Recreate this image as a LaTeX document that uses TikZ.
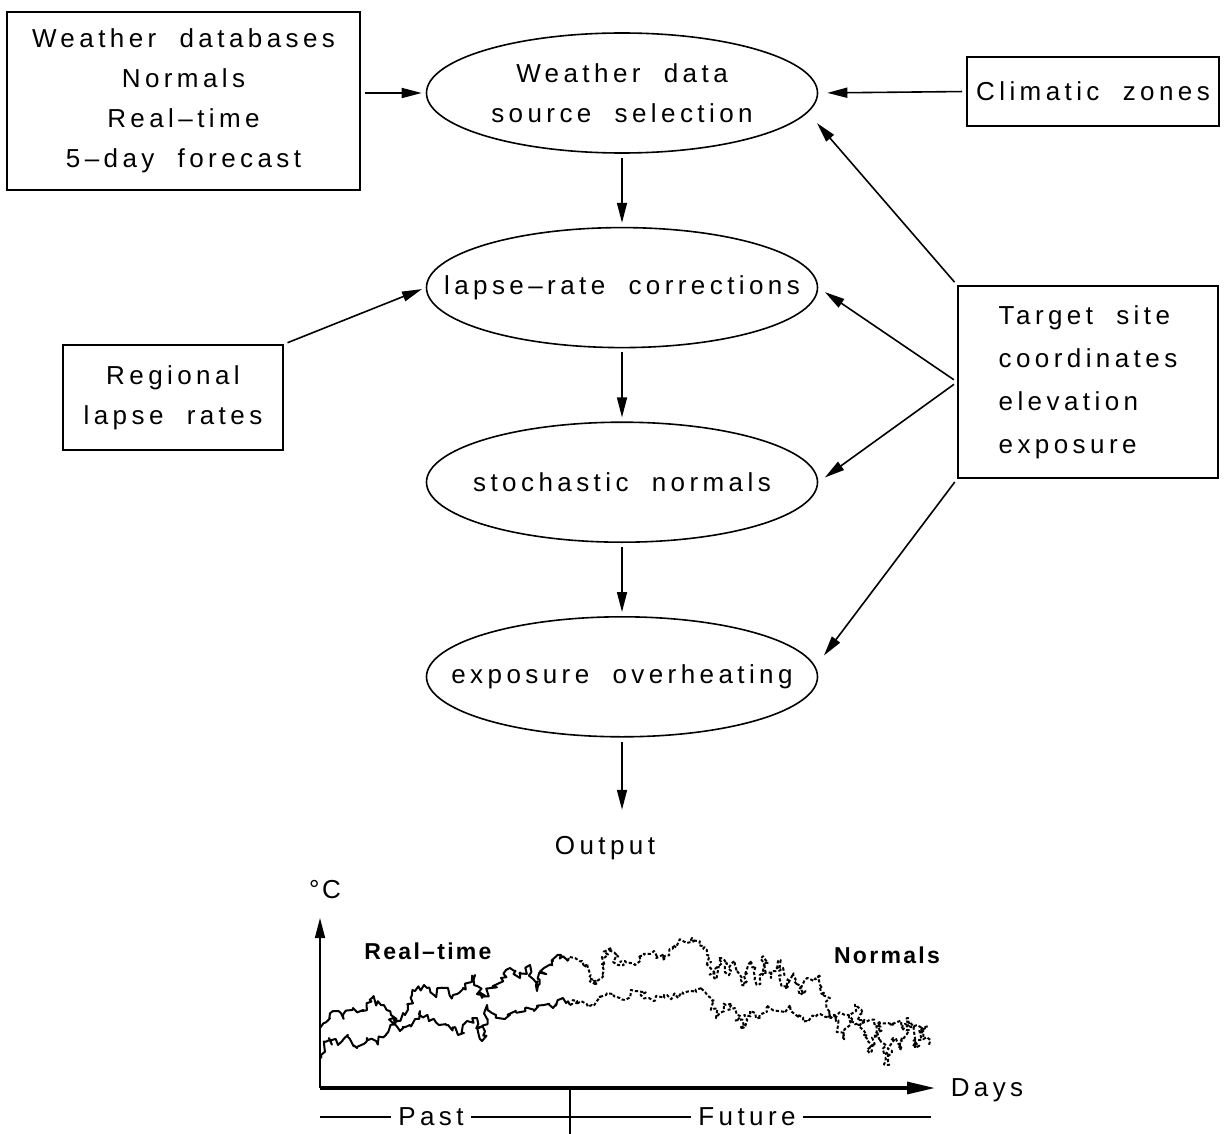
\documentclass[tikz,border=0pt]{standalone}
\usepackage{fontspec}
\setmainfont{Liberation Sans}[LetterSpace=17,WordSpace=2]
\newfontfamily\lblfont{Liberation Sans}[LetterSpace=10]
\usetikzlibrary{arrows.meta,positioning,shapes.geometric,decorations.pathmorphing}

\begin{document}
\begin{tikzpicture}[x=0.5pt,y=-0.5pt,font=\fontsize{13}{20}\selectfont,line width=0.8pt,
  >={Triangle[length=10pt,width=5pt]},
  b/.style={draw,align=center,inner sep=0pt},
  e/.style={draw,ellipse,align=center,minimum width=195.5pt,minimum height=60pt,inner xsep=-30pt,inner ysep=0pt},
  a/.style={->,shorten <=2pt,shorten >=2pt},
  lbl/.style={font=\lblfont\bfseries\fontsize{11.5}{14}\selectfont},
  rt/.style={line width=1pt,line join=round,decorate,decoration={random steps,segment length=1.6pt,amplitude=2pt}},
  nm/.style={rt,dash pattern=on 1.6pt off 1pt}]
  \useasboundingbox (0,0) rectangle (1225,1134);
  \pgfmathsetseed{11}
  % inputs
  \node[b,minimum width=176.5pt,minimum height=89pt] (dbs) at (183.5,101) {Weather databases\\Normals\\Real–time\\5–day forecast};
  \node[b,minimum width=126pt,minimum height=34.5pt] (clim) at (1093,91.5) {Climatic zones};
  \node[b,minimum width=110pt,minimum height=52.5pt] (rlr) at (173,397.5) {Regional\\lapse rates};
  \node[b,align=left,font=\fontsize{13}{21.5}\selectfont,minimum width=130pt,minimum height=96pt] (tgt) at (1088,382) {Target site\\coordinates\\elevation\\exposure};
  % chain
  \node[e] (wds) at (622,93) {Weather data\\source selection};
  \node[e,below=36.5pt of wds] (lrc) {lapse–rate corrections};
  \node[e,below=36.5pt of lrc] (stn) {stochastic normals};
  \node[e,below=36.5pt of stn] (ovh) {exposure overheating};
  \node (out) at (605,848) {Output};
  \draw[a] (dbs.east|-wds) -- (wds);\draw[a,shorten >=4.5pt] (clim.west) -- (wds.east);
  \draw[a] (wds) -- (lrc);\draw[a] (lrc) -- (stn);\draw[a] (stn) -- (ovh);
  \draw[a,shorten >=9.5pt] (ovh) -- (ovh.south|-out.north);
  \draw[a] (rlr.north east) -- (lrc.west);
  \draw[a,shorten >=7pt] (tgt.north west) -- (wds.-6);
  \draw[a,shorten >=4pt] (tgt.west) -- (lrc.east);\draw[a,shorten >=4pt] (tgt.west) -- (stn.east);
  \draw[a,shorten >=7pt] (tgt.south west) -- (ovh.3);
  % output chart
  \node[font=\lblfont\fontsize{13}{14}\selectfont] (degc) at (325,890) {°C};
  \node[lbl] (rtl) at (428,951) {Real–time};
  \node[lbl] (nml) at (887,955) {Normals};
  \node (days) at (987,1090) {Days};
  \node (past) at (431,1117) {Past};
  \node (fut) at (747,1117) {Future};
  \coordinate (pl) at (320,1117);\coordinate (pm) at (570,1117);\coordinate (fr) at (931,1117);
  \coordinate (tk1) at (570,1090);\coordinate (tk2) at (570,1134);
  \draw[line width=0.6pt] (pl) -- (past);\draw[line width=0.6pt] (past) -- (pm);
  \draw[line width=0.6pt] (pm) -- (fut);\draw[line width=0.6pt] (fut) -- (fr);
  \draw[line width=0.6pt] (tk1) -- (tk2);
  \begin{scope}[shift={(320,1088)},y=0.5pt]
    \coordinate (o) at (0,0);\coordinate (ytop) at (0,170);\coordinate (xend) at (615,0);
    \draw[->] (o) -- (ytop);
    \draw[line width=1.6pt,-{Triangle[length=14pt,width=6pt]}] (o) -- (xend);
    \draw[rt] plot coordinates {(0,60) (13,77) (23,70) (33,80) (42,77) (52,90) (61,83) (71,73) (78,67) (85,73) (95,97) (104,103) (114,93) (123,100) (133,93) (143,100) (155,113) (162,90) (171,100) (181,110) (190,120) (200,110) (210,123) (217,97) (224,120) (233,127) (241,133) (248,127)};
    \draw[nm] plot coordinates {(248,127) (255,130) (262,127) (269,110) (277,103) (284,130) (291,140) (298,123) (305,127) (315,123) (324,133) (334,137) (344,127) (353,143) (363,147) (372,150) (379,143) (387,133) (394,110) (401,130) (408,113) (415,127) (422,103) (430,127) (437,103) (444,130) (451,110) (458,127) (466,100) (473,113) (480,93) (487,110) (494,107) (501,113) (509,77) (516,67) (523,50) (530,67) (537,83) (544,53) (552,37) (559,67) (566,23) (573,50) (580,37) (588,70) (595,40) (602,60) (609,43)};
    \draw[rt] plot coordinates {(0,30) (9,50) (18,43) (28,53) (37,40) (47,50) (56,47) (66,53) (73,70) (80,57) (90,63) (100,77) (109,67) (119,63) (128,63) (138,53) (147,67) (157,70) (162,47) (167,83) (176,73) (186,70) (195,77) (205,80) (214,77) (224,83) (233,80) (243,90) (250,83)};
    \draw[nm] plot coordinates {(250,83) (257,87) (272,83) (286,93) (300,90) (315,97) (329,90) (344,93) (358,90) (372,97) (382,100) (391,90) (396,70) (406,83) (415,80) (422,60) (430,77) (439,70) (449,83) (458,77) (468,80) (478,73) (487,67) (497,73) (511,70) (525,73) (540,63) (554,67) (568,65) (583,63) (597,63) (609,62)};
  \end{scope}
\end{tikzpicture}
\end{document}
